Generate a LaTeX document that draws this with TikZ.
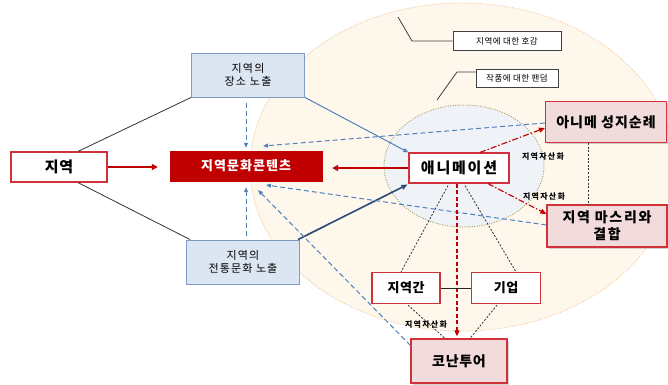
\documentclass[tikz,border=0pt]{standalone}
\usepackage{fontspec}
\setmainfont{Noto Sans CJK KR}
\usetikzlibrary{calc,arrows.meta,shadows}
\definecolor{boxred}{HTML}{D0313B}
\definecolor{darkred}{HTML}{C00000}
\definecolor{pinkfill}{HTML}{F2DCDB}
\definecolor{bluefill}{HTML}{DCE6F2}
\definecolor{blueline}{HTML}{7F9BC2}
\definecolor{arrblue}{HTML}{4F81BD}
\definecolor{arrdark}{HTML}{2B4A74}
\definecolor{creamfill}{HTML}{FEF7EC}
\definecolor{creamline}{HTML}{F3C9A0}
\definecolor{innerfill}{HTML}{EFF2F7}
\definecolor{innerline}{HTML}{A8A060}
\newcommand{\ksz}[2]{\fontsize{#1}{#2}\selectfont}
\newcommand{\lsp}[1]{\addfontfeatures{LetterSpace=#1}}
\tikzset{
  whitebox/.style={draw=boxred, line width=1.2pt, fill=white, inner sep=2pt, align=center},
  pinkbox/.style={draw=boxred, line width=1.2pt, fill=pinkfill, inner sep=2pt, align=center,
    drop shadow={shadow xshift=1.5pt, shadow yshift=-1.5pt, opacity=0.35}},
  bluebox/.style={draw=blueline, line width=0.9pt, fill=bluefill, inner sep=2pt, align=center},
  labelbox/.style={draw=black!75, line width=0.8pt, fill=white, inner sep=1pt,
    font=\ksz{8.5}{10}\lsp{6}},
  redthick/.style={draw=darkred, line width=2.2pt, -{Triangle[length=6pt,width=6pt]}},
  blueline/.style={draw=arrblue, line width=1pt, -{Triangle[length=5pt,width=4pt]}},
  darkline/.style={draw=arrdark, line width=1.6pt, -{Triangle[length=6pt,width=5pt]}},
  bluedash/.style={draw=arrblue, line width=1pt, dash pattern=on 5pt off 3pt, -{Triangle[length=5pt,width=4pt]}},
  reddashdot/.style={draw=darkred, line width=1.1pt, dash pattern=on 6pt off 2pt on 1.5pt off 2pt, -{Triangle[length=6pt,width=5pt]}},
  reddash/.style={draw=darkred, line width=1.5pt, dash pattern=on 4pt off 2.5pt, -{Triangle[length=6pt,width=5pt]}},
  blackdot/.style={draw=black!80, line width=0.8pt, dash pattern=on 2pt off 1.6pt},
  assetlabel/.style={font=\bfseries\ksz{8}{9}\lsp{16}, inner sep=0pt},
}
\begin{document}
\begin{tikzpicture}[x=1pt,y=-1pt]
\useasboundingbox (0,0) rectangle (668,384);
\clip (0,0) rectangle (668,384);
\fill[white] (0,0) rectangle (668,384);
% background ellipses
\draw[fill=creamfill, draw=creamline, line width=0.9pt, dash pattern=on 1pt off 1.5pt] (462,167) ellipse [x radius=212, y radius=164];
\draw[fill=innerfill, draw=innerline, line width=0.9pt, dash pattern=on 1pt off 1.5pt] (464,166) ellipse [x radius=80, y radius=61];

% nodes
\node[whitebox, minimum width=96pt, minimum height=30pt, font=\bfseries\ksz{15}{17}\lsp{6}] (jiyeok) at (59,167) {지역};
\node[draw=darkred, fill=darkred, text=white, minimum width=152pt, minimum height=30pt, font=\bfseries\ksz{13}{15}\lsp{8}] (content) at (246,166) {지역문화콘텐츠};
\node[bluebox, minimum width=113pt, minimum height=44pt, font=\ksz{11}{13}\lsp{12}] (place) at (248,75) {지역의\\장소 노출};
\node[bluebox, minimum width=113pt, minimum height=44pt, font=\ksz{11}{13}\lsp{10}] (trad) at (243,262) {지역의\\전통문화 노출};
\node[whitebox, minimum width=100pt, minimum height=30pt, font=\bfseries\ksz{15}{17}\lsp{12}] (anim) at (459,168) {애니메이션};
\node[pinkbox, minimum width=121pt, minimum height=41pt, font=\bfseries\ksz{14}{16}\lsp{7}] (pilgrim) at (606,122) {아니메 성지순례};
\node[pinkbox, minimum width=120pt, minimum height=42pt, font=\bfseries\ksz{14}{17}\lsp{12}] (festival) at (607,226) {지역 마스리와\\결합};
\node[whitebox, minimum width=68pt, minimum height=31pt, font=\bfseries\ksz{13}{15}\lsp{4}] (inter) at (406,288) {지역간};
\node[whitebox, minimum width=69pt, minimum height=31pt, font=\bfseries\ksz{13}{15}\lsp{4}] (corp) at (506,288) {기업};
\node[pinkbox, minimum width=96pt, minimum height=44pt, font=\bfseries\ksz{14}{16}\lsp{5}] (conan) at (459,361) {코난투어};
\node[labelbox, minimum width=108pt, minimum height=19pt] (lab1) at (507,41) {지역에 대한 호감};
\node[labelbox, minimum width=82pt, minimum height=18pt] (lab2) at (517,78) {작품에 대한 팬덤};

% leader lines
\coordinate (l1) at (398,17);
\coordinate (l2) at (437,100);
\draw[black!75, line width=0.8pt] (l1) -- (412,41) -- (lab1.west);
\draw[black!75, line width=0.8pt] (l2) -- (457,72) -- (lab2.west |- 0,72);

% black thin lines
\draw[black!80, line width=0.8pt] ($(jiyeok.north)+(19,0)$) -- (place.south west);
\draw[black!80, line width=0.8pt] ($(jiyeok.south)+(19,0)$) -- ($(trad.north west)+(4,0)$);

% blue arrows
\draw[blueline] (place.south east) -- (anim.north west);
\draw[darkline] ($(trad.north east)+(-2,0)$) -- ($(anim.south west)+(-1,1)$);

% dashed blue
\draw[bluedash, shorten <=6pt, shorten >=3pt] (content.north |- place.south) -- (content.north);
\draw[bluedash, shorten <=4pt, shorten >=6pt] (content.south |- trad.north) -- (content.south);
\coordinate (t1) at (263,146);
\coordinate (t2) at (266,185);
\coordinate (t3) at (258,190);
\draw[bluedash] ($(pilgrim.west)+(0,1)$) -- (t1);
\draw[bluedash] ($(festival.west)+(0,-1)$) -- (t2);
\draw[bluedash] ($(conan.north west)+(0,7)$) -- (t3);

% red thick arrows
\draw[redthick, shorten >=12pt] (jiyeok) -- (jiyeok -| content.west);
\draw[redthick, shorten >=10pt] (anim.west) -- (anim -| content.east);

% red dashed arrows
\draw[reddashdot] ($(anim.north)+(21,0)$) -- ($(pilgrim.west)+(0,6)$);
\draw[reddashdot] ($(anim.south)+(29,0)$) -- ($(festival.west)+(0,-12)$);
\draw[reddash, shorten >=2pt] ($(anim.south)+(-2,0)$) -- ($(conan.north)+(-2,0)$);

% black dotted
\draw[blackdot] ($(anim.south)+(-11,2)$) -- ($(inter.north)+(-5,0)$);
\draw[blackdot] ($(anim.south)+(6,2)$) -- ($(corp.north)+(10,0)$);
\draw[blackdot] ($(inter.south)+(2,1)$) -- ($(conan.north)+(-14,0)$);
\draw[blackdot] ($(corp.south)+(-9,1)$) -- ($(conan.north)+(11,0)$);
\draw[blackdot] ($(pilgrim.south)+(-18,0)$) -- ($(festival.north)+(-19,0)$);
\draw[black!85, line width=0.8pt] (inter.east) -- (corp.west);

% labels
\node[assetlabel] (a1) at (543,156) {지역자산화};
\node[assetlabel] (a2) at (544,196) {지역자산화};
\node[assetlabel] (a3) at (426,324) {지역자산화};
\end{tikzpicture}
\end{document}
